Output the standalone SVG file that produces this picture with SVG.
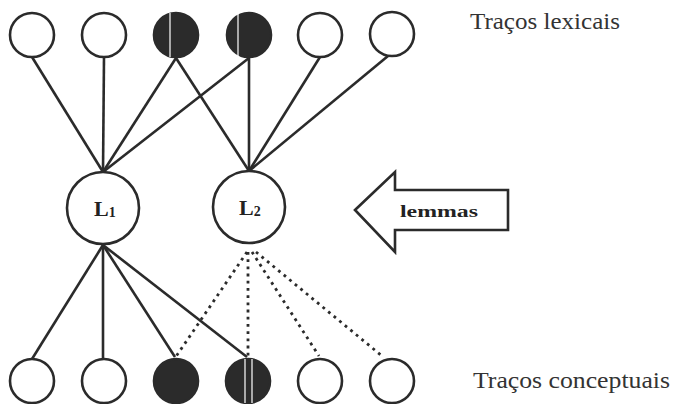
<svg xmlns="http://www.w3.org/2000/svg" width="675" height="404" viewBox="0 0 675 404">
<style>
.n{fill:#fff;stroke:#2b2b2b;stroke-width:2.6}
.f{fill:#2b2b2b;stroke:#2b2b2b;stroke-width:2.6}
.e{stroke:#2b2b2b;stroke-width:2.6;fill:none}
.d{stroke:#2b2b2b;stroke-width:2.8;fill:none;stroke-dasharray:2.8 4.4}
.s{stroke:#fff;stroke-width:1.2}
.lab{font-family:"Liberation Serif",serif;fill:#333}
.b{font-family:"Liberation Serif",serif;font-weight:bold;fill:#222}
</style>
<g id="connectors">
<line class="e" x1="32" y1="57" x2="103" y2="172"/>
<line class="e" x1="104" y1="57" x2="103" y2="172"/>
<line class="e" x1="176" y1="58" x2="103" y2="172"/>
<line class="e" x1="249" y1="58" x2="103" y2="172"/>
<line class="e" x1="176" y1="58" x2="249" y2="171"/>
<line class="e" x1="249" y1="58" x2="249" y2="171"/>
<line class="e" x1="320" y1="57" x2="249" y2="171"/>
<line class="e" x1="388" y1="56" x2="249" y2="171"/>
<line class="e" x1="103" y1="245" x2="32" y2="359"/>
<line class="e" x1="103" y1="245" x2="103" y2="359"/>
<line class="e" x1="103" y1="245" x2="175" y2="357"/>
<line class="e" x1="103" y1="245" x2="247" y2="357"/>
<line class="d" x1="247" y1="252" x2="175" y2="358"/>
<line class="d" x1="248" y1="252" x2="248" y2="358"/>
<line class="d" x1="252" y1="252" x2="319" y2="356"/>
<line class="d" x1="256" y1="252" x2="382" y2="356"/>
</g>
<g id="t1"><circle class="n" cx="32" cy="35" r="22"/></g>
<g id="t2"><circle class="n" cx="104" cy="35" r="22"/></g>
<g id="t3"><circle class="f" cx="176" cy="35" r="22"/><line class="s" x1="170" y1="13" x2="170" y2="57"/></g>
<g id="t4"><circle class="f" cx="249" cy="35" r="22"/><line class="s" x1="238" y1="14" x2="238" y2="56"/></g>
<g id="t5"><circle class="n" cx="320" cy="35" r="22"/></g>
<g id="t6"><circle class="n" cx="392" cy="34" r="22"/></g>
<g id="L1"><circle class="n" cx="103" cy="208" r="36"/><text class="b" x="94" y="216" font-size="22">L<tspan font-size="14" dy="1">1</tspan></text></g>
<g id="L2"><circle class="n" cx="249" cy="207" r="36"/><text class="b" x="239" y="215" font-size="22">L<tspan font-size="14" dy="1">2</tspan></text></g>
<g id="arrow"><polygon class="n" points="355,210 395,172 395,190 508,190 508,230 395,230 395,252"/><text class="b" x="400" y="217" font-size="16" textLength="78" lengthAdjust="spacingAndGlyphs">lemmas</text></g>
<g id="b1"><circle class="n" cx="32" cy="381" r="22"/></g>
<g id="b2"><circle class="n" cx="104" cy="381" r="22"/></g>
<g id="b3"><circle class="f" cx="176" cy="381" r="22"/></g>
<g id="b4"><circle class="f" cx="248" cy="381" r="22"/><line class="s" x1="245" y1="359" x2="245" y2="403"/><line class="s" x1="252" y1="359" x2="252" y2="403"/></g>
<g id="b5"><circle class="n" cx="320" cy="381" r="22"/></g>
<g id="b6"><circle class="n" cx="392" cy="381" r="22"/></g>
<text class="lab" x="470" y="29" font-size="23" textLength="150" lengthAdjust="spacingAndGlyphs">Traços lexicais</text>
<text class="lab" x="473" y="388" font-size="23" textLength="197" lengthAdjust="spacingAndGlyphs">Traços conceptuais</text>
</svg>
